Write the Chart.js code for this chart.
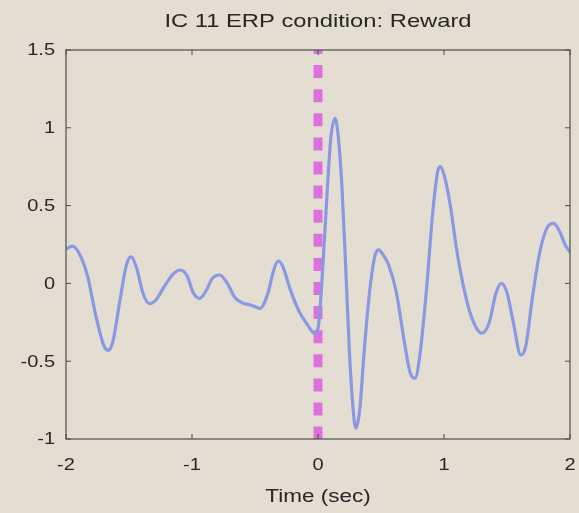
<!DOCTYPE html>
<html lang="en">
<head>
  <meta charset="UTF-8">
  <title>IC 11 ERP condition: Reward</title>
  <script src="https://cdn.jsdelivr.net/npm/chart.js"></script>
  <style>
    html, body { margin: 0; padding: 0; background: #e4ded2; }
    #wrap { width: 579px; height: 513px; }
  </style>
</head>
<body>
  <div id="wrap"><canvas id="erp"></canvas></div>

  <script>
    // ERP trace for IC 11, reward condition (time in sec, amplitude)
    const times = [
      -2.00, -1.95, -1.90, -1.83, -1.76, -1.70, -1.667, -1.63, -1.57, -1.52,
      -1.484, -1.44, -1.39, -1.34, -1.29, -1.22, -1.15, -1.095, -1.04, -0.99,
      -0.94, -0.89, -0.84, -0.78, -0.72, -0.66, -0.60, -0.53, -0.46, -0.40,
      -0.35, -0.315, -0.28, -0.22, -0.15, -0.08, -0.03, 0.00, 0.03, 0.07,
      0.10, 0.135, 0.16, 0.19, 0.22, 0.25, 0.28, 0.30, 0.33, 0.37,
      0.41, 0.45, 0.48, 0.52, 0.56, 0.62, 0.68, 0.73, 0.77, 0.81,
      0.86, 0.91, 0.95, 0.97, 1.00, 1.05, 1.10, 1.16, 1.22, 1.30,
      1.36, 1.41, 1.455, 1.50, 1.55, 1.61, 1.65, 1.70, 1.76, 1.82,
      1.87, 1.92, 1.96, 2.00
    ];
    const erp = [
      0.22, 0.24, 0.20, 0.05, -0.22, -0.40, -0.43, -0.38, -0.10, 0.12,
      0.17, 0.10, -0.06, -0.13, -0.11, -0.02, 0.06, 0.086, 0.05, -0.06,
      -0.096, -0.05, 0.03, 0.054, 0.00, -0.09, -0.125, -0.14, -0.16, -0.07,
      0.09, 0.144, 0.11, -0.04, -0.18, -0.27, -0.32, -0.29, 0.00, 0.55,
      0.92, 1.06, 0.95, 0.62, 0.10, -0.45, -0.82, -0.93, -0.82, -0.40,
      -0.05, 0.17, 0.215, 0.18, 0.12, -0.05, -0.35, -0.57, -0.61, -0.45,
      -0.05, 0.45, 0.72, 0.75, 0.70, 0.50, 0.22, -0.04, -0.22, -0.32,
      -0.25, -0.07, 0.00, -0.06, -0.25, -0.46, -0.40, -0.10, 0.20, 0.36,
      0.386, 0.33, 0.25, 0.20
    ];
    // event onset marker
    const onsetX = [0, 0];
    const onsetY = [1.5, -1];

    const xTicks = [-2, -1, 0, 1, 2];
    const yTicks = [-1, -0.5, 0, 0.5, 1, 1.5];

    const titleText = 'IC 11 ERP condition: Reward';
    const xLabel = 'Time (sec)';
    const ink = '#262626';
    const font = '"Liberation Sans", Arial, sans-serif';
    const stretch = 1.25;   // the figure text is set wide

    function wideText(c, text, x, y, align) {
      c.save();
      c.translate(x, y);
      c.scale(stretch, 1);
      c.textAlign = align;
      c.fillText(text, 0, 0);
      c.restore();
    }

    // page background, axes box, inward ticks and all text
    const frame = {
      id: 'frame',
      beforeDraw(chart) {
        const c = chart.ctx;
        c.save();
        c.fillStyle = '#e4ded2';
        c.fillRect(0, 0, chart.width, chart.height);
        c.restore();
      },
      afterDraw(chart) {
        const c = chart.ctx, a = chart.chartArea;
        const xs = chart.scales.x, ys = chart.scales.y;
        const midX = (a.left + a.right) / 2;
        c.save();
        c.strokeStyle = '#4d4d4d';
        c.lineWidth = 1.2;
        c.strokeRect(a.left, a.top, a.right - a.left, a.bottom - a.top);
        c.lineWidth = 1;
        c.beginPath();
        xTicks.forEach(v => {
          const px = xs.getPixelForValue(v);
          c.moveTo(px, a.bottom); c.lineTo(px, a.bottom - 5);
          c.moveTo(px, a.top); c.lineTo(px, a.top + 5);
        });
        yTicks.forEach(v => {
          const py = ys.getPixelForValue(v);
          c.moveTo(a.left, py); c.lineTo(a.left + 5, py);
          c.moveTo(a.right, py); c.lineTo(a.right - 5, py);
        });
        c.stroke();

        c.fillStyle = ink;
        c.textBaseline = 'middle';
        c.font = '16px ' + font;
        xTicks.forEach(v => wideText(c, String(v), xs.getPixelForValue(v), a.bottom + 27, 'center'));
        yTicks.forEach(v => wideText(c, String(v), a.left - 11, ys.getPixelForValue(v) + 1, 'right'));
        c.font = '19px ' + font;
        wideText(c, titleText, midX, 22, 'center');
        c.font = '18px ' + font;
        wideText(c, xLabel, midX, 497, 'center');
        c.restore();
      }
    };

    new Chart(document.getElementById('erp'), {
      type: 'scatter',
      data: {
        datasets: [
          {
            data: times.map((t, i) => ({ x: t, y: erp[i] })),
            showLine: true,
            borderColor: 'rgb(138,152,226)',
            borderWidth: 3.2,
            pointRadius: 0,
            tension: 0.4,
            cubicInterpolationMode: 'monotone'
          },
          {
            data: onsetX.map((t, i) => ({ x: t, y: onsetY[i] })),
            showLine: true,
            borderColor: 'rgb(222,112,222)',
            borderWidth: 9,
            borderDash: [13, 11.1],
            borderDashOffset: 9,
            borderCapStyle: 'butt',
            pointRadius: 0
          }
        ]
      },
      options: {
        responsive: true,
        maintainAspectRatio: false,
        animation: false,
        layout: { padding: { top: 50, right: 9, left: 0, bottom: 0 } },
        plugins: { legend: { display: false }, tooltip: { enabled: false } },
        scales: {
          x: {
            type: 'linear', min: -2, max: 2,
            afterFit(s) { s.height = 74; s.paddingLeft = 0; s.paddingRight = 0; },
            afterBuildTicks(s) { s.ticks = xTicks.map(v => ({ value: v })); },
            grid: { display: false },
            border: { display: false },
            ticks: { display: false }
          },
          y: {
            min: -1, max: 1.5,
            afterFit(s) { s.width = 66; s.paddingTop = 0; s.paddingBottom = 0; },
            afterBuildTicks(s) { s.ticks = yTicks.map(v => ({ value: v })); },
            grid: { display: false },
            border: { display: false },
            ticks: { display: false }
          }
        }
      },
      plugins: [frame]
    });
  </script>
</body>
</html>
